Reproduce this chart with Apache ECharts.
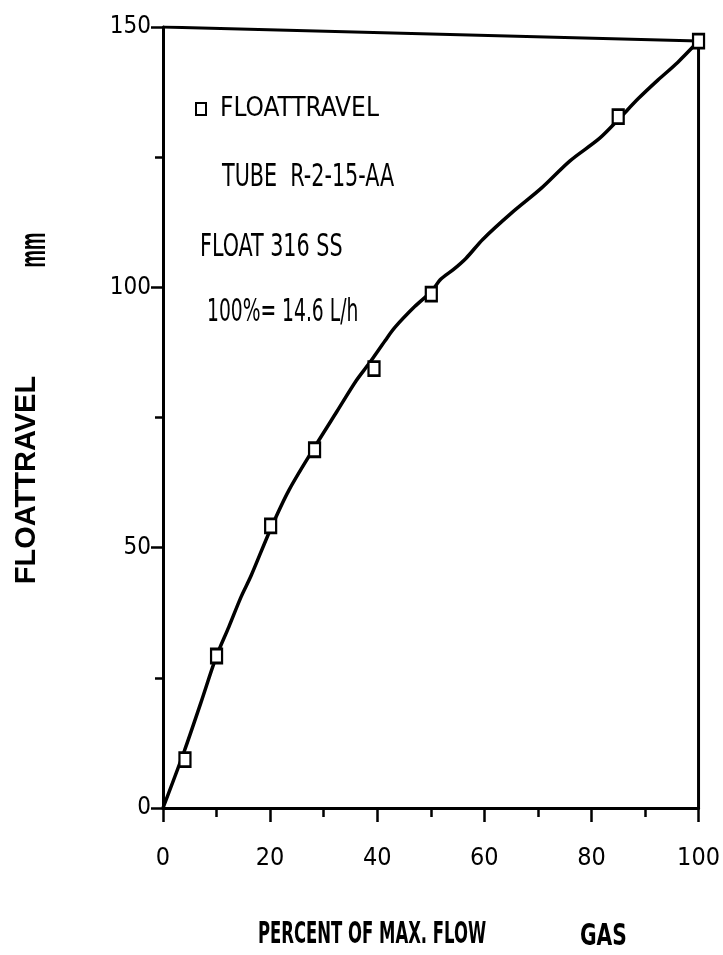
<!DOCTYPE html>
<html>
<head>
<meta charset="utf-8">
<script src="https://cdn.jsdelivr.net/npm/echarts@6/dist/echarts.min.js"></script>
<style>
  html, body { margin: 0; padding: 0; background: #fff; }
  #chart { width: 723px; height: 955px; }
</style>
</head>
<body>
<div id="chart"></div>
<script>
// Measured float positions (percent of max flow, float travel in mm)
const flowPct   = [4.1, 10.0, 20.1, 28.3, 39.4, 50.1, 85.0, 100.0];
const floatMm   = [9.3, 29.2, 54.2, 68.8, 84.4, 98.7, 132.8, 147.3];

// Calibration curve traced through the readings
const curveX = [0, 4.0, 7.0, 10.0, 12.3, 14.6, 16.4, 20.1, 23.5, 28.0, 32.5, 36.1, 38.5, 41.5, 43.3, 47.0, 50.1, 51.9, 54.2, 56.6, 59.7, 65.1, 70.6, 76.0, 81.5, 85.0, 88.8, 92.4, 96.1, 100.0];
const curveY = [0, 11.0, 20.0, 29.2, 34.8, 40.6, 44.5, 53.6, 61.0, 68.8, 76.2, 82.1, 85.4, 89.8, 92.3, 96.3, 99.2, 101.6, 103.4, 105.6, 109.2, 114.3, 119.0, 124.3, 128.6, 132.2, 136.3, 139.8, 143.2, 147.3];

// Axis ticks
const xTicks = [0, 20, 40, 60, 80, 100];
const yTicks = [0, 50, 100, 150];

const seriesName = 'FLOATTRAVEL';
const infoLines = ['TUBE  R-2-15-AA', 'FLOAT 316 SS', '100%= 14.6 L/h'];
const xTitle = 'PERCENT OF MAX. FLOW';
const xTitle2 = 'GAS';
const yTitle = 'FLOATTRAVEL';
const yUnit = 'mm';

const NARROW = '"DejaVu Sans Condensed", "Liberation Sans", sans-serif';
const WIDE = '"Liberation Sans", Arial, sans-serif';

const pts = flowPct.map((x, i) => [x, floatMm[i]]);
const curve = curveX.map((x, i) => [x, curveY[i]]);
const last = pts[pts.length - 1];
const yMax = yTicks[yTicks.length - 1];
// top edge runs from the top of the scale to the final reading, then down to the axis
const frame = [[xTicks[0], yMax], last, [last[0], 0]];

const chart = echarts.init(document.getElementById('chart'), null, { renderer: 'canvas' });

const axisLineStyle = { color: '#000', width: 3 };

function label(text, x, y, size, sx, bold) {
  return {
    type: 'text', x: x, y: y, scaleX: sx,
    style: { text: text, font: (bold ? 'bold ' : '') + size + 'px ' + NARROW, fill: '#000', verticalAlign: 'middle' }
  };
}

chart.setOption({
  backgroundColor: '#fff',
  animation: false,
  grid: { left: 163, right: 18, top: 27, bottom: 147 },
  legend: {
    left: 190, top: 91,
    icon: 'rect', itemWidth: 10, itemHeight: 12, itemGap: 10,
    textStyle: { fontFamily: NARROW, fontSize: 26, color: '#000', padding: [0, 0, 0, 9] },
    data: [seriesName]
  },
  xAxis: {
    type: 'value', min: xTicks[0], max: xTicks[xTicks.length - 1], interval: 20,
    axisLine: { show: true, onZero: false, lineStyle: axisLineStyle },
    axisTick: { show: true, inside: false, length: 14, lineStyle: { color: '#000', width: 2.5 } },
    minorTick: { show: true, splitNumber: 2, length: 9, lineStyle: { color: '#000', width: 2.5 } },
    splitLine: { show: false },
    axisLabel: { color: '#000', fontFamily: NARROW, fontSize: 25, margin: 38 }
  },
  yAxis: {
    type: 'value', min: yTicks[0], max: yMax, interval: 50,
    axisLine: { show: true, onZero: false, lineStyle: axisLineStyle },
    axisTick: { show: true, inside: false, length: 12, lineStyle: { color: '#000', width: 2.5 } },
    minorTick: { show: true, splitNumber: 2, length: 8, lineStyle: { color: '#000', width: 2.5 } },
    splitLine: { show: false },
    axisLabel: { color: '#000', fontFamily: NARROW, fontSize: 24, margin: 12 }
  },
  series: [
    {
      name: 'frame', type: 'line', data: frame, symbol: 'none', silent: true,
      lineStyle: { color: '#000', width: 3 }, z: 1
    },
    {
      name: 'curve', type: 'line', data: curve, symbol: 'none', smooth: 0.3,
      lineStyle: { color: '#000', width: 3.5 }, z: 2
    },
    {
      name: seriesName, type: 'scatter', data: pts,
      symbol: 'rect', symbolSize: [11, 14],
      itemStyle: { color: '#fff', borderColor: '#000', borderWidth: 2.5, opacity: 1 },
      z: 3
    }
  ],
  graphic: [
    label(infoLines[0], 222, 178, 32, 0.72, false),
    label(infoLines[1], 200, 248, 32, 0.72, false),
    label(infoLines[2], 207, 313, 32, 0.65, false),
    label(xTitle, 258, 935, 30, 0.61, true),
    label(xTitle2, 580, 937, 30, 0.75, true),
    { type: 'text', x: 27, y: 480, rotation: Math.PI / 2, style: { text: yTitle, font: 'bold 29px ' + WIDE, fill: '#000', align: 'center', verticalAlign: 'middle' } },
    { type: 'text', x: 35, y: 250, rotation: Math.PI / 2, scaleX: 0.7, scaleY: 1.35, style: { text: yUnit, font: 'bold 28px ' + WIDE, fill: '#000', align: 'center', verticalAlign: 'middle' } }
  ]
});
</script>
</body>
</html>
